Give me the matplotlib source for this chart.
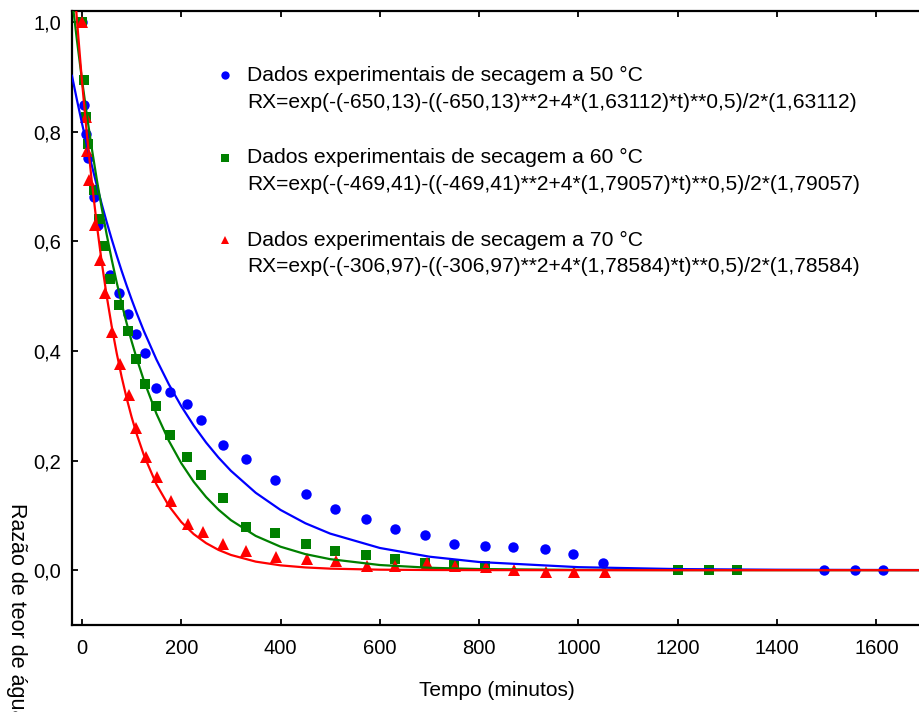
import matplotlib
matplotlib.use("Agg")
import matplotlib.pyplot as plt

plt.rcParams['font.family'] = ['Liberation Sans', 'DejaVu Sans']

t50 = [0, 5, 8, 12, 24, 33, 57, 75, 92, 109, 128, 150, 178, 211, 240, 285, 331, 388,
       452, 510, 572, 630, 691, 749, 811, 869, 932, 990, 1050, 1494, 1556, 1614]
rx50 = [1.0, 0.848, 0.795, 0.751, 0.680, 0.630, 0.538, 0.505, 0.467, 0.430, 0.396, 0.332,
        0.325, 0.303, 0.274, 0.228, 0.202, 0.164, 0.139, 0.1125, 0.0936, 0.0753, 0.0638,
        0.0486, 0.045, 0.0414, 0.0378, 0.0304, 0.0122, 0.0, 0.0, 0.0]

t60 = [0, 5, 8, 13, 25, 35, 45, 57, 75, 92, 108, 127, 150, 178, 211, 240, 285, 331, 388,
       452, 510, 572, 630, 691, 749, 811, 1200, 1262, 1320]
rx60 = [1.0, 0.894, 0.827, 0.778, 0.693, 0.640, 0.591, 0.531, 0.483, 0.437, 0.385, 0.340,
        0.299, 0.247, 0.207, 0.173, 0.131, 0.079, 0.067, 0.0486, 0.0347, 0.0268, 0.0195,
        0.0122, 0.0091, 0.0078, 0.0, 0.0, 0.0]

t70 = [0, 8, 11, 15, 27, 36, 47, 60, 77, 94, 109, 129, 151, 180, 214, 243, 285, 331, 390,
       453, 512, 574, 631, 694, 752, 813, 871, 934, 992, 1053]
rx70 = [1.0, 0.826, 0.764, 0.711, 0.629, 0.565, 0.506, 0.434, 0.377, 0.319, 0.260, 0.207,
        0.170, 0.126, 0.084, 0.069, 0.047, 0.035, 0.024, 0.0213, 0.017, 0.0073, 0.0078,
        0.0122, 0.0073, 0.006, 0.0, -0.003, -0.003, -0.003]

# fitted curves, values
fit_t = [-20, -10, 0, 10, 20, 30, 40, 50, 60, 70, 80, 90, 100, 110, 125, 150, 175, 200,
         225, 250, 275, 300, 350, 400, 450, 500, 600, 700, 800, 1000, 1200, 1400, 1700]
fit50 = [0.9017, 0.8575, 0.8156, 0.7756, 0.7377, 0.7016, 0.6673, 0.6346, 0.6036, 0.5740,
         0.5459, 0.5193, 0.4939, 0.4697, 0.4357, 0.3844, 0.3391, 0.2992, 0.2640, 0.2329,
         0.2055, 0.1813, 0.1412, 0.1099, 0.0856, 0.0667, 0.0405, 0.0246, 0.0149, 0.0055,
         0.0020, 0.0008, 0.0002]
fit60 = [1.0429, 0.9663, 0.8953, 0.8295, 0.7686, 0.7122, 0.6599, 0.6115, 0.5665, 0.5250,
         0.4865, 0.4508, 0.4177, 0.3871, 0.3453, 0.2855, 0.2361, 0.1952, 0.1614, 0.1335,
         0.1104, 0.0913, 0.0625, 0.0428, 0.0293, 0.0201, 0.0094, 0.0044, 0.0021, 0.0005,
         0.0001, 0.0, 0.0]
fit70 = [1.127, 1.0031, 0.8929, 0.7949, 0.7076, 0.6300, 0.5609, 0.4994, 0.4446, 0.3959,
         0.3525, 0.3139, 0.2796, 0.2490, 0.2093, 0.1566, 0.1173, 0.0879, 0.0659, 0.0494,
         0.0370, 0.0278, 0.0156, 0.0088, 0.0050, 0.0028, 0.0009, 0.0003, 0.0001, 0.0,
         0.0, 0.0, 0.0]

xticks = [0, 200, 400, 600, 800, 1000, 1200, 1400, 1600]
yticks = [0.0, 0.2, 0.4, 0.6, 0.8, 1.0]
ylabels = ['0,0', '0,2', '0,4', '0,6', '0,8', '1,0']

labels = ['Dados experimentais de secagem a 50 °C',
          'Dados experimentais de secagem a 60 °C',
          'Dados experimentais de secagem a 70 °C']
formulas = ['RX=exp(-(-650,13)-((-650,13)**2+4*(1,63112)*t)**0,5)/2*(1,63112)',
            'RX=exp(-(-469,41)-((-469,41)**2+4*(1,79057)*t)**0,5)/2*(1,79057)',
            'RX=exp(-(-306,97)-((-306,97)**2+4*(1,78584)*t)**0,5)/2*(1,78584)']

blue = '#0000ff'
green = '#008000'
red = '#ff0000'
colors = [blue, green, red]
markers = ['o', 's', '^']

fig = plt.figure(figsize=(9.2, 7.12), dpi=100)
ax = fig.add_axes([72 / 920, 87 / 712, 854 / 920, 614 / 712])

# points first, the fitted lines sit on top of them
ax.plot(t50, rx50, 'o', color=blue, ms=7.5, mew=0, zorder=2)
ax.plot(t60, rx60, 's', color=green, ms=7, mew=0, zorder=2)
ax.plot(t70, rx70, '^', color=red, ms=8, mew=0, zorder=2)

ax.plot(fit_t, fit50, color=blue, lw=1.6, zorder=3)
ax.plot(fit_t, fit60, color=green, lw=1.6, zorder=3)
ax.plot(fit_t, fit70, color=red, lw=1.6, zorder=3)

ax.set_xlim(-20, 1700)
ax.set_ylim(-0.1, 1.02)
ax.set_xticks(xticks)
ax.set_xticklabels([str(v) for v in xticks])
ax.set_yticks(yticks)
ax.set_yticklabels(ylabels)
ax.tick_params(direction='in', length=4, width=1.3, labelsize=14.5, top=True, pad=8)
ax.tick_params(axis='x', pad=10)
for s in ax.spines.values():
    s.set_linewidth(1.6)

# legend drawn by hand: marker + two text lines per entry
for i in range(3):
    yb = 75 + i * 82.5
    fig.lines.append(plt.Line2D([225 / 920], [1 - yb / 712], transform=fig.transFigure,
                                marker=markers[i], color=colors[i], ms=6, mew=0, ls=''))
    fig.text(247 / 920, 1 - yb / 712, labels[i], fontsize=15.2, va='center', ha='left')
    fig.text(247 / 920, 1 - (yb + 27) / 712, formulas[i], fontsize=15.15, va='center', ha='left')

fig.text(497 / 920, 1 - 690 / 712, 'Tempo (minutos)', fontsize=15, ha='center', va='center')
fig.text(16 / 920, 1 - 503 / 712, 'Razão de teor de água', fontsize=15.5, rotation=270,
         ha='center', va='top')

fig.savefig('out.png', dpi=100)
